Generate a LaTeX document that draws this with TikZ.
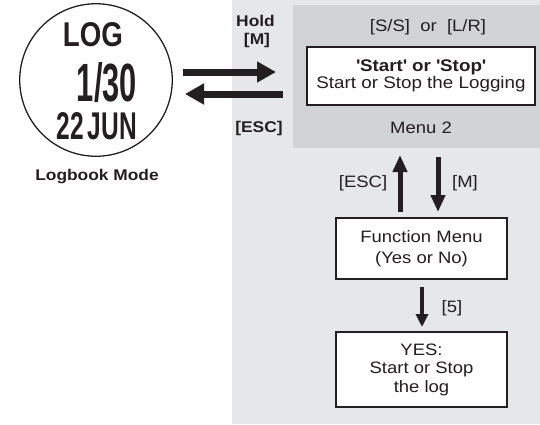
\documentclass[tikz,border=0pt]{standalone}
\usepackage{fontspec}
\setmainfont{Liberation Sans}[FakeStretch=1.12]
\usetikzlibrary{arrows.meta}
\definecolor{bglight}{RGB}{230,231,232}
\definecolor{bgdark}{RGB}{209,211,212}
\definecolor{ink}{RGB}{35,31,32}
\begin{document}
\begin{tikzpicture}[x=1pt,y=-1pt,
  every node/.style={inner sep=0pt, outer sep=0pt, text=ink},
  lbl/.style={font=\fontsize{16.5}{18}\selectfont},
  blbl/.style={font=\fontsize{15.5}{17}\selectfont\bfseries},
  wbox/.style={draw=ink, line width=1.4pt, fill=white, align=center},
  fatarrow/.style={draw=ink, line width=7pt, -{Triangle[length=19pt,width=20pt]}},
  midarrow/.style={draw=ink, line width=5pt, -{Triangle[length=17pt,width=14pt]}},
  smallarrow/.style={draw=ink, line width=4pt, -{Triangle[length=13pt,width=12pt]}}
]
\useasboundingbox (0,0) rectangle (540,424);
% backgrounds
\node[fill=bglight, minimum width=308pt, minimum height=424pt, anchor=north west] (bg) at (232,0) {};
\node[fill=bgdark, minimum width=247pt, minimum height=143pt, anchor=north west] (menu) at (293,5) {};
% watch face
\node[circle, draw=ink, line width=1.3pt, minimum size=152.5pt] (watch) at (96,80) {};
\node (log) at (93,35) {\resizebox{60pt}{24pt}{\bfseries LOG}};
\node (num) at (107,82.5) {\resizebox{60pt}{39pt}{\bfseries 1/30}};
\node (day) at (97,126.5) {\resizebox{80pt}{27pt}{\bfseries 22\,JUN}};
\node[blbl] (mode) at (97,177) {Logbook Mode};
% menu content
\node[lbl] (ss) at (428,27) {[S/S]~~or~~[L/R]};
\node[wbox, minimum width=228pt, minimum height=58pt, font=\fontsize{16.8}{13.8}\selectfont] (mbox) at (421,76)
  {\textbf{\textquotesingle Start\textquotesingle\ or \textquotesingle Stop\textquotesingle}\\Start or Stop the Logging};
\node[lbl] (m2) at (421,127.5) {Menu 2};
% side labels
\node[blbl] (hold) at (255.5,21) {Hold};
\node[blbl] (holdm) at (257,40) {[M]};
\node[blbl] (esc) at (259,128) {[ESC]};
% lower boxes
\node[wbox, minimum width=171pt, minimum height=61pt, font=\fontsize{16.5}{21}\selectfont] (fn) at (421.5,248.5)
  {Function Menu\\(Yes or No)};
\node[wbox, minimum width=171pt, minimum height=75pt, font=\fontsize{16.5}{18.5}\selectfont] (yes) at (421.5,369.5)
  {YES:\\Start or Stop\\the log};
% arrows
\coordinate (r1) at (183,72); \coordinate (r2) at (276,72);
\coordinate (l1) at (283,94); \coordinate (l2) at (185,94);
\draw[fatarrow] (r1) -- (r2);
\draw[fatarrow] (l1) -- (l2);
\coordinate (u1) at (400,212); \coordinate (u2) at (400,155);
\coordinate (d1) at (438,157); \coordinate (d2) at (438,212);
\draw[midarrow] (u1) -- (u2);
\draw[midarrow] (d1) -- (d2);
\coordinate (f1) at (422,287); \coordinate (f2) at (422,327);
\draw[smallarrow] (f1) -- (f2);
\node[lbl] (escl) at (363,183) {[ESC]};
\node[lbl] (ml) at (465,183) {[M]};
\node[lbl] (fivel) at (452,308) {[5]};
\end{tikzpicture}
\end{document}
